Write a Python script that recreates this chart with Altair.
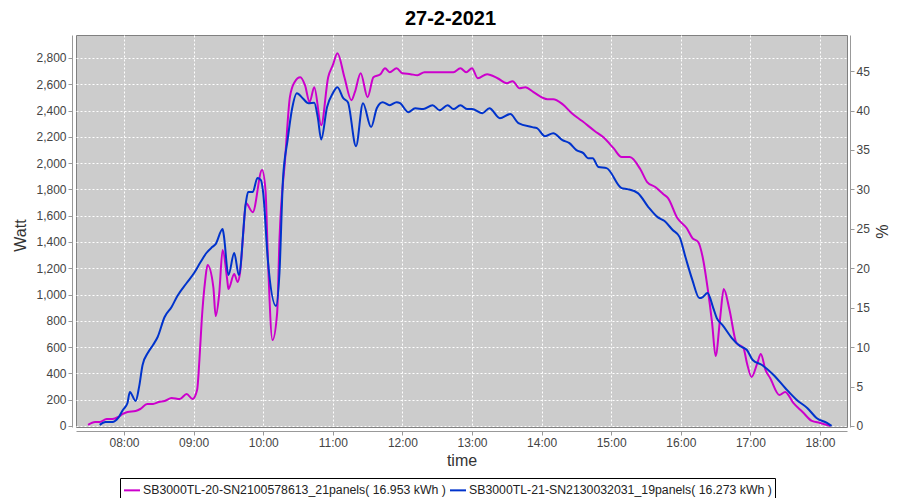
import altair as alt
import pandas as pd

# ---- data ----
series_names = [
    "SB3000TL-20-SN2100578613_21panels( 16.953 kWh )",
    "SB3000TL-21-SN2130032031_19panels( 16.273 kWh )",
]
series_colors = ["#cc00cc", "#0033cc"]

m_time = ["07:29", "07:35", "07:39", "07:45", "07:50", "07:55", "07:59", "08:03", "08:10", "08:14",
          "08:20", "08:25", "08:30", "08:35", "08:41", "08:48", "08:54", "08:59", "09:03", "09:05",
          "09:07", "09:10", "09:12", "09:17", "09:19", "09:22", "09:25", "09:29", "09:30", "09:35",
          "09:38", "09:40", "09:43", "09:45", "09:51", "09:59", "10:02", "10:04", "10:08", "10:12",
          "10:14", "10:19", "10:23", "10:27", "10:32", "10:36", "10:40", "10:44", "10:50", "10:56",
          "11:00", "11:04", "11:10", "11:16", "11:19", "11:24", "11:30", "11:35", "11:41", "11:45",
          "11:49", "11:55", "12:00", "12:07", "12:13", "12:19", "12:30", "12:44", "12:50", "12:55",
          "13:00", "13:05", "13:13", "13:22", "13:30", "13:35", "13:41", "13:46", "13:53", "14:05",
          "14:10", "14:18", "14:26", "14:35", "14:46", "14:53", "15:02", "15:09", "15:16", "15:25",
          "15:31", "15:38", "15:45", "15:49", "15:57", "16:05", "16:10", "16:15", "16:19", "16:23",
          "16:27", "16:30", "16:34", "16:37", "16:42", "16:48", "16:54", "16:57", "17:01", "17:06",
          "17:09", "17:13", "17:17", "17:25", "17:30", "17:37", "17:45", "17:53", "18:00", "18:09"]
m_watt = [8, 30, 30, 53, 53, 68, 91, 106, 114, 129,
          167, 167, 182, 190, 213, 205, 243, 205, 274, 502,
          806, 1110, 1224, 1057, 836, 1000, 1338, 1110, 1042, 1156,
          1095, 1164, 1490, 1696, 1627, 1947, 1790, 1285, 654, 859,
          1414, 2046, 2502, 2616, 2654, 2593, 2464, 2578, 2289, 2654,
          2745, 2837, 2654, 2479, 2540, 2684, 2502, 2654, 2677, 2722,
          2692, 2722, 2684, 2677, 2669, 2692, 2692, 2692, 2722, 2692,
          2722, 2646, 2677, 2646, 2608, 2624, 2570, 2578, 2540, 2487,
          2487, 2449, 2380, 2320, 2243, 2198, 2114, 2046, 2046, 1955,
          1856, 1818, 1764, 1734, 1582, 1506, 1430, 1400, 1278, 1057,
          783, 532, 829, 1042, 882, 631, 593, 479, 373, 479,
          547, 426, 365, 236, 259, 175, 106, 38, 23, 0]

b_time = ["07:39", "07:44", "07:50", "07:55", "07:59", "08:03", "08:05", "08:10", "08:13", "08:16",
          "08:21", "08:25", "08:29", "08:35", "08:41", "08:46", "08:54", "09:01", "09:06", "09:11",
          "09:16", "09:19", "09:25", "09:26", "09:30", "09:35", "09:39", "09:45", "09:47", "09:51",
          "09:55", "09:58", "10:00", "10:04", "10:11", "10:14", "10:17", "10:21", "10:25", "10:29",
          "10:34", "10:39", "10:44", "10:47", "10:50", "10:55", "11:00", "11:04", "11:09", "11:13",
          "11:20", "11:26", "11:33", "11:38", "11:43", "11:49", "11:55", "11:58", "12:05", "12:11",
          "12:18", "12:26", "12:32", "12:39", "12:44", "12:50", "12:56", "13:00", "13:09", "13:15",
          "13:24", "13:33", "13:40", "13:52", "13:56", "14:03", "14:10", "14:18", "14:24", "14:30",
          "14:36", "14:40", "14:44", "14:49", "14:56", "15:09", "15:14", "15:23", "15:32", "15:40",
          "15:46", "15:53", "15:59", "16:04", "16:10", "16:16", "16:19", "16:23", "16:28", "16:31",
          "16:36", "16:44", "16:51", "16:57", "17:02", "17:10", "17:20", "17:30", "17:40", "17:49",
          "17:57", "18:06", "18:10"]
b_watt = [8, 30, 30, 61, 122, 175, 259, 190, 297, 464,
          563, 616, 677, 829, 905, 989, 1088, 1171, 1247, 1316,
          1361, 1384, 1498, 1453, 1148, 1316, 1148, 1696, 1780, 1780,
          1886, 1871, 1772, 1262, 913, 1164, 1871, 2175, 2420, 2532,
          2494, 2456, 2460, 2350, 2180, 2426, 2532, 2578, 2494, 2464,
          2129, 2456, 2274, 2420, 2464, 2441, 2464, 2456, 2388, 2418,
          2411, 2441, 2403, 2441, 2411, 2441, 2411, 2411, 2380, 2418,
          2342, 2373, 2304, 2274, 2266, 2205, 2228, 2175, 2152, 2099,
          2076, 2038, 2038, 1970, 1962, 1810, 1802, 1772, 1666, 1589,
          1559, 1491, 1437, 1285, 1110, 973, 981, 1011, 897, 821,
          768, 669, 608, 578, 502, 464, 388, 289, 198, 137,
          61, 23, 0]

hour_ticks = [8, 9, 10, 11, 12, 13, 14, 15, 16, 17, 18]
watt_ticks = [0, 200, 400, 600, 800, 1000, 1200, 1400, 1600, 1800, 2000, 2200, 2400, 2600, 2800]
pct_ticks = [0, 5, 10, 15, 20, 25, 30, 35, 40, 45]


def to_hours(t):
    h, m = t.split(":")
    return int(h) + int(m) / 60.0


rows = []
for t, w in zip(m_time, m_watt):
    rows.append({"hour": to_hours(t), "watt": w, "series": series_names[0]})
for t, w in zip(b_time, b_watt):
    rows.append({"hour": to_hours(t), "watt": w, "series": series_names[1]})
df = pd.DataFrame(rows)
pct_df = pd.DataFrame({"pct": pct_ticks})

FONT = "Liberation Sans"
W_DOMAIN = [-8, 2975]
P_DOMAIN = [W_DOMAIN[0] / 60.0, W_DOMAIN[1] / 60.0]

lines = alt.Chart(df).mark_line(strokeWidth=2, interpolate="monotone").encode(
    x=alt.X(
        "hour:Q",
        scale=alt.Scale(domain=[7.31, 18.388], nice=False, zero=False),
        axis=alt.Axis(
            values=hour_ticks,
            labelExpr="(datum.value < 10 ? '0' : '') + datum.value + ':00'",
            title="time",
            offset=4,
            grid=True,
            titleY=29,
            titleBaseline="middle",
            labelPadding=2,
        ),
    ),
    y=alt.Y(
        "watt:Q",
        scale=alt.Scale(domain=W_DOMAIN, nice=False, zero=False),
        axis=alt.Axis(
            values=watt_ticks,
            format=",.0f",
            title="Watt",
            offset=4,
            grid=True,
            titleX=-52,
            titleY=200,
            titleBaseline="middle",
            labelPadding=2,
        ),
    ),
    color=alt.Color(
        "series:N",
        scale=alt.Scale(domain=series_names, range=series_colors),
        legend=alt.Legend(
            title=None,
            orient="none",
            legendX=44,
            legendY=443,
            direction="horizontal",
            strokeColor="black",
            fillColor="white",
            padding=3,
            cornerRadius=0,
            labelFont=FONT,
            labelFontSize=12.3,
            labelColor="#222222",
            labelLimit=600,
            labelOffset=2,
            symbolType="stroke",
            symbolSize=256,
            symbolStrokeWidth=2,
            columnPadding=0,
        ),
    ),
)

right_axis = alt.Chart(pct_df).mark_point(opacity=0).encode(
    y=alt.Y(
        "pct:Q",
        scale=alt.Scale(domain=P_DOMAIN, nice=False, zero=False),
        axis=alt.Axis(
            orient="right",
            values=pct_ticks,
            title="%",
            offset=3,
            grid=False,
            titleX=30,
            titleY=196,
            titleBaseline="middle",
            labelPadding=2,
        ),
    )
)

chart = (
    alt.layer(lines, right_axis)
    .resolve_scale(y="independent")
    .properties(
        width=771,
        height=392,
        padding={"left": 68, "top": 27, "right": 45, "bottom": 71},
        autosize=alt.AutoSizeParams(type="none"),
        title=alt.TitleParams(
            "27-2-2021",
            font=FONT,
            fontSize=20,
            fontWeight="bold",
            color="black",
            anchor="middle",
            offset=6,
            dx=-11,
        ),
        background="white",
    )
    .configure_view(fill="#cccccc", stroke="#808080", strokeWidth=1)
    .configure_axis(
        labelFont=FONT,
        labelFontSize=12,
        labelColor="#444444",
        titleFont=FONT,
        titleFontSize=16,
        titleFontWeight="normal",
        titleColor="#333333",
        domainColor="#999999",
        tickColor="#999999",
        tickSize=4,
        gridColor="white",
        gridDash=[2, 2],
        gridWidth=1,
        gridOpacity=1,
    )
)

chart.save("out.html", embed_options={"renderer": "svg", "actions": False})
